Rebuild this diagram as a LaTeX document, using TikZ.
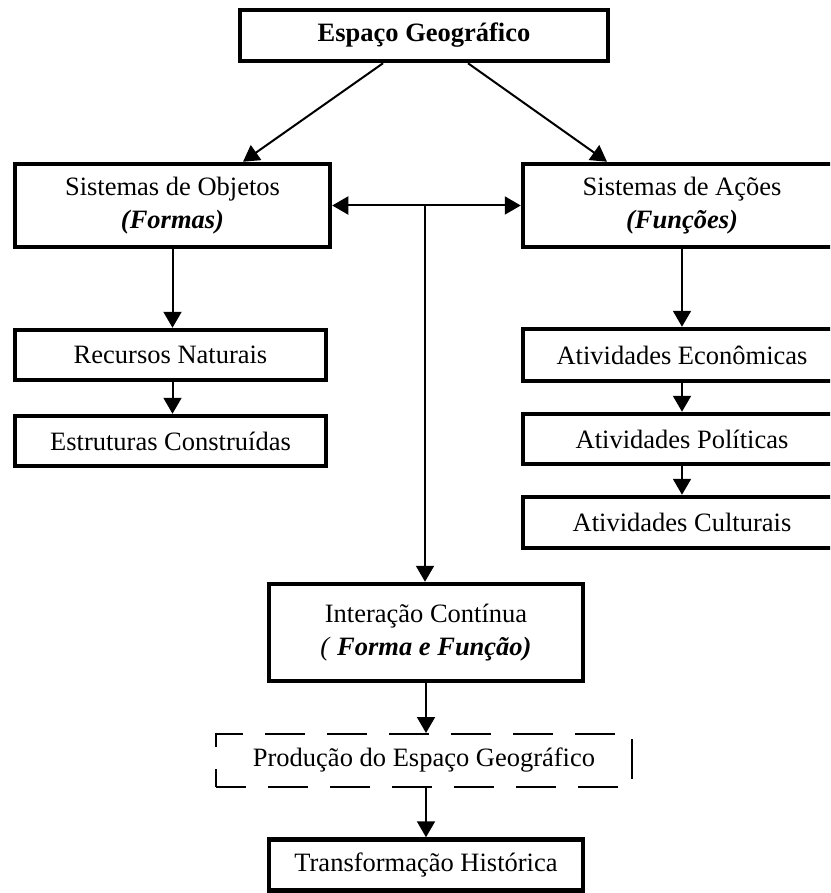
\documentclass[tikz,border=0pt]{standalone}
\usepackage{fontspec}
\setmainfont{Liberation Serif}
\usetikzlibrary{arrows.meta,calc}
\begin{document}
\begin{tikzpicture}[x=1pt,y=-1pt,
  box/.style={draw, line width=4.5pt, align=center, inner sep=0pt,
    font=\fontsize{26.5}{33}\selectfont},
  dbox/.style={draw, line width=2pt, dash pattern=on 40pt off 22pt, dash phase=10pt, align=center, inner sep=0pt,
    font=\fontsize{26.5}{33}\selectfont},
  arr/.style={line width=2pt, -{Triangle[length=16pt,width=18pt]}},
  darr/.style={line width=2pt, {Triangle[length=16pt,width=18pt]}-{Triangle[length=16pt,width=18pt]}}
]
\useasboundingbox (0,0) rectangle (830,893);
\clip (0,0) rectangle (830,893);
\node[box, minimum width=368pt, minimum height=51pt] (top) at (424,35.5) {\textbf{Espaço Geográfico}};
\node[box, minimum width=315pt, minimum height=83pt] (objs) at (172.5,205.5) {Sistemas de Objetos\\\textbf{\textit{(Formas)}}};
\node[box, minimum width=318pt, minimum height=83pt] (acoes) at (682,205.5) {Sistemas de Ações\\\textbf{\textit{(Funções)}}};
\node[box, minimum width=311pt, minimum height=50pt] (rec) at (170.5,355) {Recursos Naturais};
\node[box, minimum width=311pt, minimum height=50pt] (est) at (170.5,441) {Estruturas Construídas};
\node[box, minimum width=318pt, minimum height=52pt] (eco) at (682,355) {Atividades Econômicas};
\node[box, minimum width=318pt, minimum height=50pt] (pol) at (682,439) {Atividades Políticas};
\node[box, minimum width=318pt, minimum height=51pt] (cul) at (682,522.5) {Atividades Culturais};
\node[box, minimum width=314pt, minimum height=97pt] (inter) at (426,632.5) {Interação Contínua\\\textit{(} \textbf{\textit{Forma e Função)}}};
\node[dbox, minimum width=416pt, minimum height=53pt] (prod) at (424,760.5) {Produção do Espaço Geográfico};
\node[box, minimum width=314pt, minimum height=51pt] (trans) at (426,865) {Transformação Histórica};
\coordinate (j) at (425,206);

\draw[arr] ([xshift=-41pt]top.south) -- ([xshift=70.5pt]objs.north);
\draw[arr] ([xshift=44pt]top.south) -- ([xshift=-75pt]acoes.north);
\draw[darr] (objs.east) -- (acoes.west);
\draw[arr] (j) -- (j |- inter.north);
\draw[arr] (objs.south) -- (objs.south |- rec.north);
\draw[arr] (rec.south -| objs.south) -- (objs.south |- est.north);
\draw[arr] (acoes.south) -- (eco.north);
\draw[arr] (eco.south) -- (pol.north);
\draw[arr] (pol.south) -- (cul.north);
\draw[arr] (inter.south) -- (inter.south |- prod.north);
\draw[arr] (inter.south |- prod.south) -- (trans.north);
\end{tikzpicture}
\end{document}
